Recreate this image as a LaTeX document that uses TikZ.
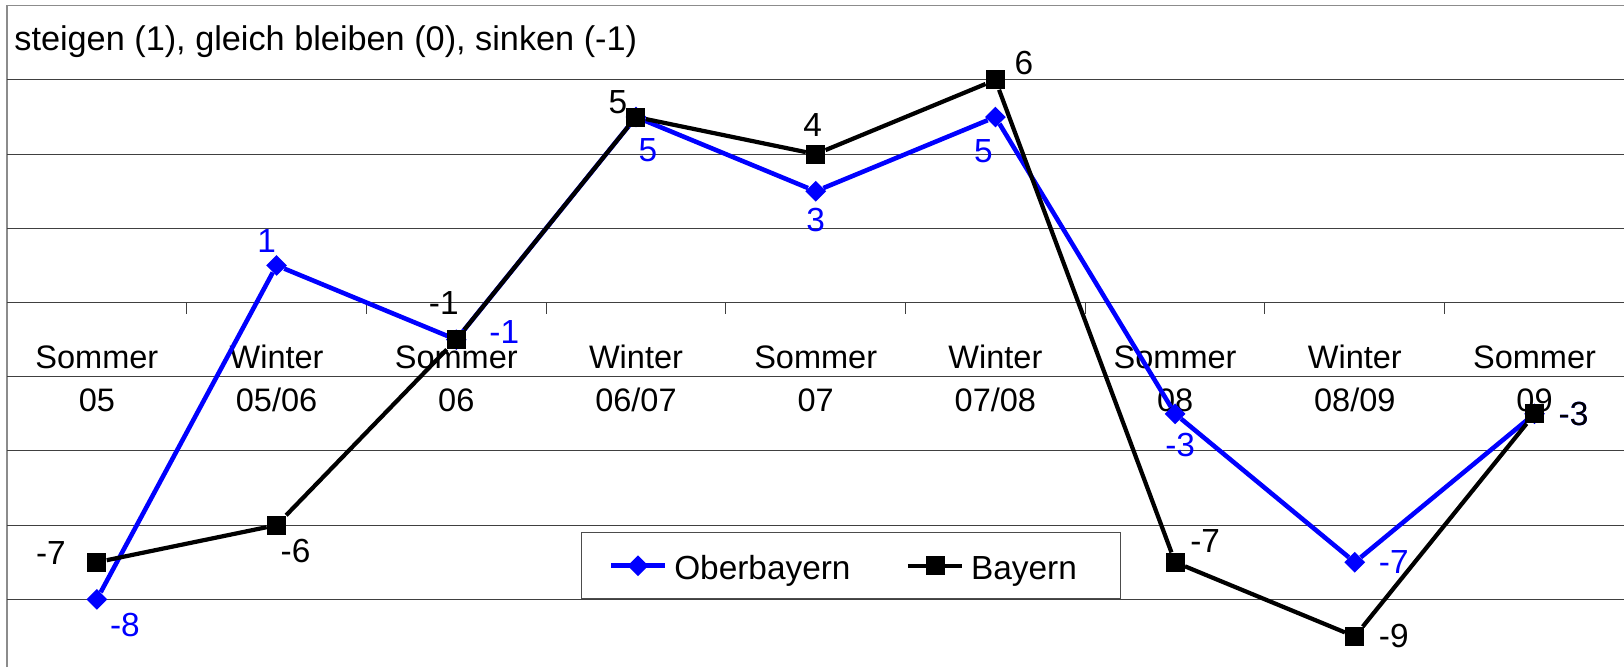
\documentclass[tikz,border=0pt]{standalone}
\usepackage{fontspec}
\setmainfont{Liberation Sans}
\usetikzlibrary{positioning,shapes.geometric}
\tikzset{blue point/.style={diamond, fill=blue, minimum size=0.42cm, inner sep=0pt}, }
\tikzset{black point/.style={rectangle, fill=black, minimum size=0.38cm, inner sep=0pt}, }
\tikzset{blue label/.style={text=blue, inner sep=0pt, on grid}, }
\tikzset{black label/.style={text=black, inner sep=0pt, on grid}, }
\tikzset{axis label/.style={anchor=base, inner sep=0pt, font=\fontsize{18.5}{22}\selectfont}, }
\tikzset{grid line/.style={draw=black!75, line width=0.6pt}, }

\begin{document}
\begin{tikzpicture}[x=3.594cm, y=0.742cm, font=\fontsize{19}{23}\selectfont]
	\useasboundingbox (-0.539,-9.825) rectangle (8.498,8.154);
	% frame and grid
	\draw[draw=black!45, line width=0.8pt] (-0.5,-9.825) -- (-0.5,8) -- (8.498,8);
	\path[grid line]
		(-0.5,6) -- (8.498,6)
		(-0.5,4) -- (8.498,4)
		(-0.5,2) -- (8.498,2)
		(-0.5,-2) -- (8.498,-2)
		(-0.5,-4) -- (8.498,-4)
		(-0.5,-6) -- (8.498,-6)
		(-0.5,-8) -- (8.498,-8)
		;
	\path[grid line]
		(-0.5,0) -- (8.498,0)
		(0.5,0) -- (0.5,-0.3)
		(1.5,0) -- (1.5,-0.3)
		(2.5,0) -- (2.5,-0.3)
		(3.5,0) -- (3.5,-0.3)
		(4.5,0) -- (4.5,-0.3)
		(5.5,0) -- (5.5,-0.3)
		(6.5,0) -- (6.5,-0.3)
		(7.5,0) -- (7.5,-0.3)
		;
	\node[anchor=base west, inner sep=0pt, font=\fontsize{19.5}{23}\selectfont] (title) at (-0.461,6.787) {steigen (1), gleich bleiben (0), sinken (-1)};
	% categories
	\node[axis label] (s0) at (0,-1.77) {Sommer};
	\node[axis label] (s1) at (1,-1.77) {Winter};
	\node[axis label] (s2) at (2,-1.77) {Sommer};
	\node[axis label] (s3) at (3,-1.77) {Winter};
	\node[axis label] (s4) at (4,-1.77) {Sommer};
	\node[axis label] (s5) at (5,-1.77) {Winter};
	\node[axis label] (s6) at (6,-1.77) {Sommer};
	\node[axis label] (s7) at (7,-1.77) {Winter};
	\node[axis label] (s8) at (8,-1.77) {Sommer};
	\node[axis label] (j0) at (0,-2.95) {05};
	\node[axis label] (j1) at (1,-2.95) {05/06};
	\node[axis label] (j2) at (2,-2.95) {06};
	\node[axis label] (j3) at (3,-2.95) {06/07};
	\node[axis label] (j4) at (4,-2.95) {07};
	\node[axis label] (j5) at (5,-2.95) {07/08};
	\node[axis label] (j6) at (6,-2.95) {08};
	\node[axis label] (j7) at (7,-2.95) {08/09};
	\node[axis label] (j8) at (8,-2.95) {09};
	% legend
	\node[draw=black!70, fill=white, line width=0.6pt, minimum width=10.78cm, minimum height=1.33cm, inner sep=0pt] (legend) at (4.194,-7.082) {};
	\coordinate (la) at (2.861,-7.094);
	\coordinate (lb) at (3.161,-7.094);
	\coordinate (lc) at (4.513,-7.094);
	\coordinate (ld) at (4.814,-7.094);
	\draw[blue, line width=2.6pt] (la) -- (lb);
	\draw[black, line width=2.4pt] (lc) -- (ld);
	\node[blue point] (lo) at (3.011,-7.094) {};
	\node[black point] (lk) at (4.664,-7.094) {};
	\node[anchor=base west, inner sep=0pt] (lt1) at (3.211,-7.453) {Oberbayern};
	\node[anchor=base west, inner sep=0pt] (lt2) at (4.863,-7.453) {Bayern};
	% Oberbayern
	\node[blue point] (o0) at (0,-8) {};
	\node[blue point] (o1) at (1,1) {};
	\node[blue point] (o2) at (2,-1) {};
	\node[blue point] (o3) at (3,5) {};
	\node[blue point] (o4) at (4,3) {};
	\node[blue point] (o5) at (5,5) {};
	\node[blue point] (o6) at (6,-3) {};
	\node[blue point] (o7) at (7,-7) {};
	\node[blue point] (o8) at (8,-3) {};
	\path[draw,blue,line width=2.6pt]
		(o0) edge (o1)
		(o1) edge (o2)
		(o2) edge (o3)
		(o3) edge (o4)
		(o4) edge (o5)
		(o5) edge (o6)
		(o6) edge (o7)
		(o7) edge (o8)
		;
	% Bayern
	\node[black point] (b0) at (0,-7) {};
	\node[black point] (b1) at (1,-6) {};
	\node[black point] (b2) at (2,-1) {};
	\node[black point] (b3) at (3,5) {};
	\node[black point] (b4) at (4,4) {};
	\node[black point] (b5) at (5,6) {};
	\node[black point] (b6) at (6,-7) {};
	\node[black point] (b7) at (7,-9) {};
	\node[black point] (b8) at (8,-3) {};
	\path[draw,black,line width=2.4pt]
		(b0) edge (b1)
		(b1) edge (b2)
		(b2) edge (b3)
		(b3) edge (b4)
		(b4) edge (b5)
		(b5) edge (b6)
		(b6) edge (b7)
		(b7) edge (b8)
		;
	% values
	\node[blue label] (lo0) [below right=0.52cm and 0.56cm of o0] {-8};
	\node[blue label] (lo1) [above left=0.48cm and 0.2cm of o1] {1};
	\node[blue label] (lo2) [above right=0.16cm and 0.96cm of o2] {-1};
	\node[blue label] (lo3) [below right=0.66cm and 0.24cm of o3] {5};
	\node[blue label] (lo4) [below=0.58cm of o4] {3};
	\node[blue label] (lo5) [below left=0.68cm and 0.24cm of o5] {5};
	\node[blue label] (lo6) [below right=0.62cm and 0.1cm of o6] {-3};
	\node[blue label] (lo7) [right=0.78cm of o7] {-7};
	\node[blue label] (lo8) [right=0.78cm of o8] {-3};
	\node[black label] (lb0) [above left=0.18cm and 0.92cm of b0] {-7};
	\node[black label] (lb1) [below right=0.52cm and 0.38cm of b1] {-6};
	\node[black label] (lb2) [above left=0.74cm and 0.25cm of b2] {-1};
	\node[black label] (lb3) [above left=0.3cm and 0.36cm of b3] {5};
	\node[black label] (lb4) [above left=0.58cm and 0.06cm of b4] {4};
	\node[black label] (lb5) [above right=0.34cm and 0.57cm of b5] {6};
	\node[black label] (lb6) [above right=0.42cm and 0.6cm of b6] {-7};
	\node[black label] (lb7) [right=0.78cm of b7] {-9};
	\node[black label] (lb8) [right=0.78cm of b8] {-3};
\end{tikzpicture}
\end{document}
